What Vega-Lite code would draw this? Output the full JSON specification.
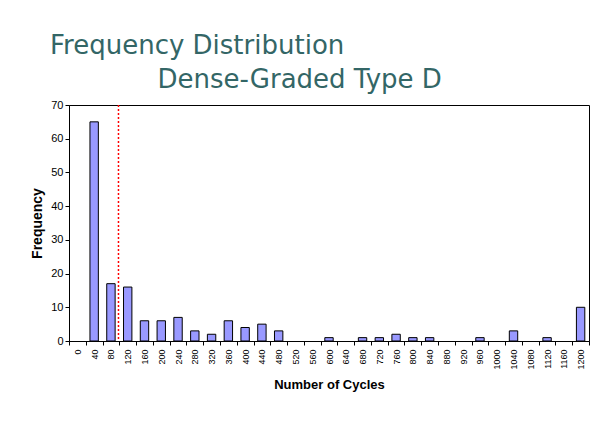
{
  "$schema": "https://vega.github.io/schema/vega-lite/v6.json",
  "width": 520,
  "height": 236,
  "autosize": {"type": "none"},
  "padding": {"left": 69, "top": 105, "right": 13, "bottom": 104},
  "background": "white",
  "title": {
    "text": ["Frequency Distribution", "\u200d\u00a0\u00a0\u00a0\u00a0\u00a0\u00a0\u00a0\u00a0\u00a0\u00a0\u00a0\u00a0\u00a0Dense-Graded Type D"],
    "anchor": "start",
    "frame": "group",
    "dx": -19,
    "offset": 6,
    "font": "DejaVu Sans",
    "fontSize": 26,
    "fontWeight": "normal",
    "color": "#336666",
    "lineHeight": 34
  },
  "data": {
    "values": [
      {"cycles": 0, "freq": 0},
      {"cycles": 40, "freq": 65},
      {"cycles": 80, "freq": 17},
      {"cycles": 120, "freq": 16},
      {"cycles": 160, "freq": 6},
      {"cycles": 200, "freq": 6},
      {"cycles": 240, "freq": 7},
      {"cycles": 280, "freq": 3},
      {"cycles": 320, "freq": 2},
      {"cycles": 360, "freq": 6},
      {"cycles": 400, "freq": 4},
      {"cycles": 440, "freq": 5},
      {"cycles": 480, "freq": 3},
      {"cycles": 520, "freq": 0},
      {"cycles": 560, "freq": 0},
      {"cycles": 600, "freq": 1},
      {"cycles": 640, "freq": 0},
      {"cycles": 680, "freq": 1},
      {"cycles": 720, "freq": 1},
      {"cycles": 760, "freq": 2},
      {"cycles": 800, "freq": 1},
      {"cycles": 840, "freq": 1},
      {"cycles": 880, "freq": 0},
      {"cycles": 920, "freq": 0},
      {"cycles": 960, "freq": 1},
      {"cycles": 1000, "freq": 0},
      {"cycles": 1040, "freq": 3},
      {"cycles": 1080, "freq": 0},
      {"cycles": 1120, "freq": 1},
      {"cycles": 1160, "freq": 0},
      {"cycles": 1200, "freq": 10}
    ]
  },
  "layer": [
    {
      "mark": {"type": "bar", "fill": "#9999FF", "stroke": "black", "strokeWidth": 1, "width": {"band": 0.5}},
      "encoding": {
        "x": {
          "field": "cycles",
          "type": "ordinal",
          "scale": {"paddingInner": 0, "paddingOuter": 0},
          "axis": {
            "title": "Number of Cycles",
            "titleFont": "Liberation Sans",
            "titleFontSize": 13,
            "titleFontWeight": "bold",
            "titleColor": "black",
            "titlePadding": 9,
            "labelAngle": 270,
            "labelFont": "Liberation Sans",
            "labelFontSize": 9,
            "labelColor": "black",
            "labelPadding": 4,
            "tickBand": "extent",
            "tickSize": 4,
            "tickColor": "black",
            "domainColor": "black"
          }
        },
        "y": {
          "field": "freq",
          "type": "quantitative",
          "scale": {"domain": [0, 70], "nice": false},
          "axis": {
            "values": [0, 10, 20, 30, 40, 50, 60, 70],
            "grid": false,
            "title": "Frequency",
            "titleFont": "Liberation Sans",
            "titleFontSize": 14,
            "titleFontWeight": "bold",
            "titleColor": "black",
            "titlePadding": 6,
            "labelFont": "Liberation Sans",
            "labelFontSize": 11,
            "labelColor": "black",
            "tickSize": 4,
            "tickColor": "black",
            "domainColor": "black"
          }
        },
        "strokeOpacity": {"condition": {"test": "datum.freq === 0", "value": 0}, "value": 1}
      }
    },
    {
      "data": {"values": [{"marker": 98}]},
      "mark": {"type": "rule", "color": "#FF0000", "strokeDash": [2, 2], "strokeWidth": 1.5},
      "encoding": {
        "x": {
          "field": "marker",
          "type": "quantitative",
          "scale": {"domain": [-20, 1220], "nice": false, "zero": false},
          "axis": null
        }
      }
    }
  ],
  "resolve": {"scale": {"x": "independent"}, "axis": {"x": "independent"}},
  "config": {
    "view": {"stroke": "black", "strokeWidth": 1},
    "font": "Liberation Sans"
  }
}
